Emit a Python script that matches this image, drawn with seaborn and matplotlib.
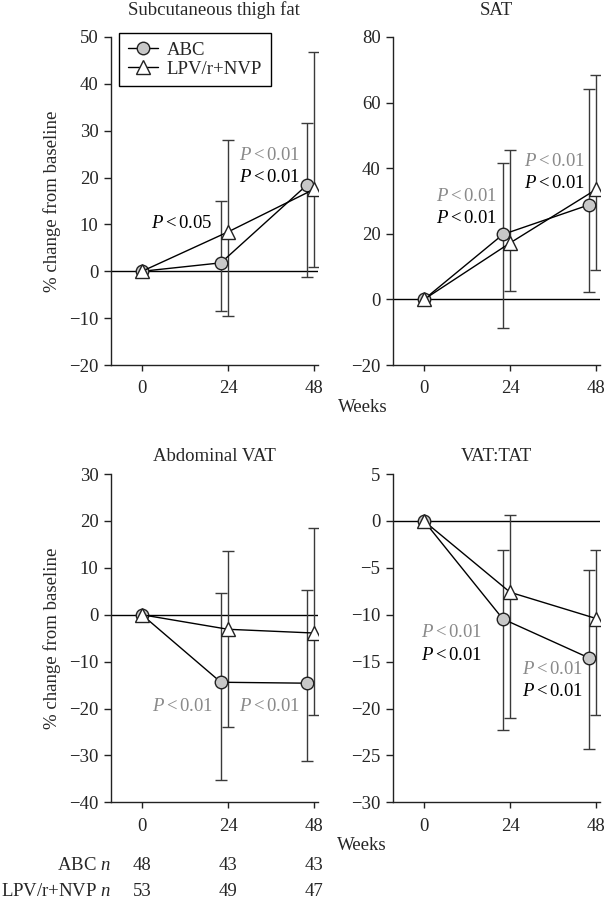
import numpy as np
import matplotlib
matplotlib.use("Agg")
import matplotlib.pyplot as plt
import matplotlib.transforms as mtransforms
import seaborn as sns

# ── Data (median % change from baseline, with IQR bounds) ─────────────────────
weeks = [0, 24, 48]
abc_weeks = [0, 22, 46]          # ABC plotted slightly left of the nominal week
lpv_weeks = [0, 24, 48]

panels = ["Subcutaneous thigh fat", "SAT", "Abdominal VAT", "VAT:TAT"]

abc_thigh = [0, 1.8, 18.4]
abc_thigh_lo = [0, -8.4, -1.2]
abc_thigh_hi = [0, 15.0, 31.6]
lpv_thigh = [0, 8.4, 17.5]
lpv_thigh_lo = [0, -9.5, 1.0]
lpv_thigh_hi = [0, 28.1, 46.7]

abc_sat = [0, 19.8, 28.8]
abc_sat_lo = [0, -8.7, 2.4]
abc_sat_hi = [0, 41.6, 64.1]
lpv_sat = [0, 17.2, 33.5]
lpv_sat_lo = [0, 2.7, 9.0]
lpv_sat_hi = [0, 45.4, 68.3]

abc_vat = [0, -14.4, -14.6]
abc_vat_lo = [0, -35.3, -31.1]
abc_vat_hi = [0, 4.7, 5.2]
lpv_vat = [0, -3.1, -3.9]
lpv_vat_lo = [0, -24.0, -21.3]
lpv_vat_hi = [0, 13.6, 18.4]

abc_ratio = [0, -10.45, -14.6]
abc_ratio_lo = [0, -22.3, -24.3]
abc_ratio_hi = [0, -3.1, -5.2]
lpv_ratio = [0, -7.6, -10.4]
lpv_ratio_lo = [0, -21.0, -20.7]
lpv_ratio_hi = [0, 0.6, -3.1]

abc_n = [48, 43, 43]
lpv_n = [53, 49, 47]

y_ranges = [(-20, 50, 10), (-20, 80, 20), (-40, 30, 10), (-30, 5, 5)]

# P-value annotations: (x right edge, y, colour key)
p_labels = [
    [(19.8, 10.1, "k"), (44.1, 24.8, "g"), (44.1, 20.1, "k")],
    [(20.4, 31.4, "g"), (20.4, 24.6, "k"), (44.9, 41.9, "g"), (44.9, 35.3, "k")],
    [(19.8, -19.6, "g"), (44.1, -19.6, "g")],
    [(16.2, -11.9, "g"), (16.2, -14.3, "k"), (44.4, -15.8, "g"), (44.4, -18.2, "k")],
]
p_text = {(0, 0): r"$P<0.05$"}

# ── Style ─────────────────────────────────────────────────────────────────────
sns.set_theme(style="ticks")
plt.rcParams["font.family"] = ["Liberation Serif", "DejaVu Serif"]
plt.rcParams["mathtext.fontset"] = "custom"
plt.rcParams["mathtext.rm"] = "Liberation Serif"
plt.rcParams["mathtext.it"] = "Liberation Serif:italic"
FS = 13.5
GREY_TXT = "#8a8a8a"
ERR_COL = "#3a3a3a"
CIRCLE_FILL = "#c8c8c8"

fig = plt.figure(figsize=(6.04, 9.0), dpi=100)
W, H = 0.3421, 0.3646
rects = [
    [0.1838, 0.5944, W, H],
    [0.6507, 0.5944, W, H],
    [0.1838, 0.1086, W, H],
    [0.6507, 0.1086, W, H],
]
series = [
    (abc_thigh, abc_thigh_lo, abc_thigh_hi, lpv_thigh, lpv_thigh_lo, lpv_thigh_hi),
    (abc_sat, abc_sat_lo, abc_sat_hi, lpv_sat, lpv_sat_lo, lpv_sat_hi),
    (abc_vat, abc_vat_lo, abc_vat_hi, lpv_vat, lpv_vat_lo, lpv_vat_hi),
    (abc_ratio, abc_ratio_lo, abc_ratio_hi, lpv_ratio, lpv_ratio_lo, lpv_ratio_hi),
]
title_pads = [16, 16, 9.5, 9.5]

axes = []
for i, (rect, data) in enumerate(zip(rects, series)):
    ax = fig.add_axes(rect)
    axes.append(ax)
    a, a_lo, a_hi, l, l_lo, l_hi = data
    a, a_lo, a_hi = map(np.asarray, (a, a_lo, a_hi))
    l, l_lo, l_hi = map(np.asarray, (l, l_lo, l_hi))

    ax.axhline(0, color="black", lw=1.0, zorder=1)
    ax.errorbar(abc_weeks, a, yerr=[a - a_lo, a_hi - a], fmt="none",
                ecolor=ERR_COL, elinewidth=1.0, capsize=4, capthick=1.0, zorder=2)
    ax.errorbar(lpv_weeks, l, yerr=[l - l_lo, l_hi - l], fmt="none",
                ecolor=ERR_COL, elinewidth=1.0, capsize=4, capthick=1.0, zorder=2)
    sns.lineplot(x=abc_weeks, y=a, ax=ax, color="black", lw=1.0, sort=False,
                 marker="o", markersize=9, markerfacecolor=CIRCLE_FILL,
                 markeredgecolor="#222222", markeredgewidth=1.0, zorder=3,
                 label="ABC", legend=False)
    sns.lineplot(x=lpv_weeks, y=l, ax=ax, color="black", lw=1.0, sort=False,
                 marker="^", markersize=9.5, markerfacecolor="white",
                 markeredgecolor="#222222", markeredgewidth=1.0, zorder=4,
                 label="LPV/r+NVP", legend=False)

    lo, hi, step = y_ranges[i]
    ax.set_ylim(lo, hi)
    ax.set_yticks(np.arange(lo, hi + step / 2, step))
    ax.set_xlim(-8.65, 49.0)
    ax.set_xticks(weeks)
    ax.set_xlabel("")
    ax.set_ylabel("")
    for s in ("top", "right"):
        ax.spines[s].set_visible(False)
    for s in ("left", "bottom"):
        ax.spines[s].set_color("#222222")
        ax.spines[s].set_linewidth(1.0)
    ax.tick_params(axis="y", direction="out", length=5, width=1, pad=4,
                   labelsize=FS, color="#222222")
    ax.tick_params(axis="x", direction="out", length=4, width=1, pad=7,
                   labelsize=FS, color="#222222")
    ax.set_title(panels[i], fontsize=FS, pad=title_pads[i])
    if i in (0, 2):
        ax.set_ylabel("% change from baseline", fontsize=FS, labelpad=6)

    for j, (px, py, c) in enumerate(p_labels[i]):
        txt = p_text.get((i, j), r"$P<0.01$")
        ax.text(px, py, txt, ha="right", va="center", fontsize=FS,
                color="black" if c == "k" else GREY_TXT, zorder=5)

# legend in the first panel
leg = axes[0].legend(loc="upper left", bbox_to_anchor=(0.039, 1.012),
                     borderaxespad=0, frameon=True, fancybox=False,
                     edgecolor="black", framealpha=1, fontsize=FS,
                     handlelength=1.6, handletextpad=0.5, labelspacing=0.12,
                     borderpad=0.45)
leg.get_frame().set_linewidth(1.0)

fig.text(363 / 604, 1 - 407 / 900, "Weeks", ha="center", va="center", fontsize=FS)
fig.text(362 / 604, 1 - 846 / 900, "Weeks", ha="center", va="center", fontsize=FS)

# n-at-risk table under the bottom-left panel
ax = axes[2]
trans = mtransforms.blended_transform_factory(ax.transData, fig.transFigure)
y_abc, y_lpv = 1 - 866 / 900, 1 - 892 / 900
fig.text(111 / 604, y_abc, "ABC $n$", ha="right", va="center", fontsize=FS)
fig.text(111 / 604, y_lpv, "LPV/r+NVP $n$", ha="right", va="center", fontsize=FS)
for wk, na, nl in zip(weeks, abc_n, lpv_n):
    ax.text(wk, y_abc, str(na), transform=trans, ha="center", va="center", fontsize=FS)
    ax.text(wk, y_lpv, str(nl), transform=trans, ha="center", va="center", fontsize=FS)

fig.savefig("out.png", dpi=100)
